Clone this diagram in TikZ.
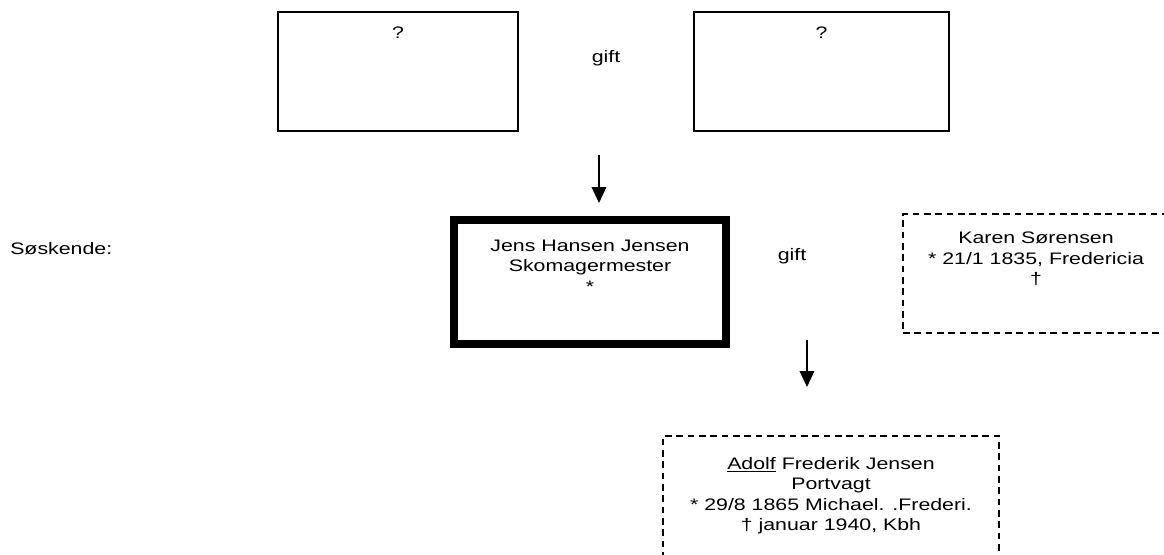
\documentclass[tikz,border=0pt]{standalone}
\usepackage{fontspec}
\setmainfont[FakeStretch=1.28]{Liberation Sans}
\usetikzlibrary{positioning,arrows.meta}

\begin{document}
\begin{tikzpicture}[x=0.75pt, y=-0.75pt,
      box/.style={draw, line width=1.1pt, inner sep=0pt},
      mainbox/.style={draw, line width=6pt, inner sep=0pt},
      dashbox/.style={draw, line width=1.5pt, dash pattern=on 5pt off 3.5pt, inner sep=0pt},
      txt/.style={align=center, font=\fontsize{12.5}{15.4}\selectfont, inner sep=0pt},
      parent/.style={-{Triangle[width=11pt,length=12pt]}, line width=1.1pt}]
      \useasboundingbox (0,0) rectangle (1164,554);
      % parents
      \node[box, minimum width=180pt, minimum height=89.25pt] (far) at (398,71.5) {};
      \node[txt, below=11.25pt of far.north] (farname) {?};
      \node[txt] (gift1) at (606,58) {gift};
      \node[box, minimum width=191.25pt, minimum height=89.25pt] (mor) at (821.5,71.5) {};
      \node[txt, below=11.25pt of mor.north] (morname) {?};
      % main person and wife
      \node[txt, anchor=west] (sos) at (10,249) {Søskende:};
      \node[mainbox, minimum width=204pt, minimum height=93pt] (jens) at (590,282) {};
      \node[txt, below=17.5pt of jens.north] (jensname) {Jens Hansen Jensen\\Skomagermester\\*};
      \node[txt] (gift2) at (792,256) {gift};
      \node[dashbox, minimum width=199.5pt, minimum height=89.25pt] (karen) at (1036,273.5) {};
      \node[txt, below=14pt of karen.north] (karenname) {Karen Sørensen\\* 21/1 1835, Fredericia\\†};
      % child
      \node[dashbox, minimum width=252pt, minimum height=97.5pt] (adolf) at (831,501) {};
      \node[txt, below=16.5pt of adolf.north] (adolfname) {\underline{Adolf} Frederik Jensen\\Portvagt\\* 29/8 1865 Michael. .Frederi.\\† januar 1940, Kbh};
      % arrows
      \coordinate (a1s) at (599,155);
      \coordinate (a1e) at (599,203);
      \coordinate (a2s) at (807,340);
      \coordinate (a2e) at (807,387);
      \draw[parent] (a1s) -- (a1e);
      \draw[parent] (a2s) -- (a2e);
\end{tikzpicture}
\end{document}
